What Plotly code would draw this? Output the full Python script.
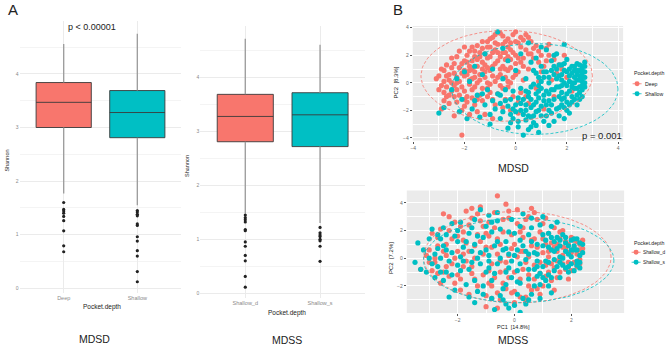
import numpy as np
import plotly.graph_objects as go

W, H = 668, 345
def px(x): return x / W
def py(y): return 1 - y / H

RED = "#F8766D"
CYAN = "#00BFC4"
FONT = "Liberation Sans, Arial, sans-serif"

# ---------------- Box plot data (Shannon) ----------------
mdsd_groups = ["Deep", "Shallow"]
mdsd_q1 = [3.00, 2.81]
mdsd_median = [3.47, 3.28]
mdsd_q3 = [3.84, 3.69]
mdsd_whisk_lo = [1.77, 1.55]
mdsd_whisk_hi = [4.56, 4.75]
mdsd_out_deep = [1.60, 1.47, 1.44, 1.40, 1.34, 1.26, 1.07, 0.79, 0.68]
mdsd_out_shallow = [1.45, 1.42, 1.38, 1.35, 1.20, 1.17, 0.96, 0.88, 0.70, 0.60, 0.31, 0.12]

mdss_groups = ["Shallow_d", "Shallow_s"]
mdss_q1 = [2.81, 2.72]
mdss_median = [3.28, 3.31]
mdss_q3 = [3.69, 3.72]
mdss_whisk_lo = [1.48, 1.30]
mdss_whisk_hi = [4.72, 4.61]
mdss_out_d = [1.45, 1.40, 1.36, 1.32, 1.18, 1.16, 0.95, 0.87, 0.70, 0.60, 0.31, 0.11]
mdss_out_s = [1.22, 1.12, 1.08, 1.05, 1.00, 0.97, 0.87, 0.59]

# ---------------- PCA data (approximate reading) ----------------
mdsd_deep = [(-3.0,0.5),(-2.9,-0.2),(-2.8,0.9),(-2.9,-1.9),(-2.7,-1.0),(-2.6,0.2),(-2.7,1.3),(-2.5,-0.6),(-2.4,0.7),(-2.5,1.8),
(-2.3,-1.4),(-2.3,0.0),(-2.2,1.1),(-2.2,2.3),(-2.1,-0.3),(-2.0,0.5),(-2.0,1.6),(-2.1,-2.0),(-1.9,-1.0),(-1.9,2.0),
(-1.8,0.2),(-1.8,1.2),(-1.7,-0.5),(-1.7,2.6),(-1.6,0.8),(-1.6,-1.6),(-1.5,1.7),(-1.5,0.0),(-1.4,2.2),(-1.4,-0.9),
(-1.3,1.0),(-1.3,3.0),(-1.2,0.4),(-1.2,-2.3),(-1.1,1.8),(-1.1,-0.4),(-1.0,2.6),(-1.0,0.9),(-0.9,3.3),(-0.9,-1.2),
(-0.8,1.4),(-0.8,0.1),(-0.7,2.2),(-0.7,-0.8),(-0.6,3.6),(-0.6,1.0),(-0.5,2.8),(-0.5,-1.8),(-0.4,1.7),(-0.4,0.4),
(-0.3,3.2),(-0.3,-0.3),(-0.2,2.4),(-0.2,1.1),(-0.1,3.5),(-0.1,-1.0),(0.0,2.0),(0.0,0.6),(0.1,2.9),(0.1,-2.2),
(0.2,1.5),(0.2,3.3),(0.3,0.2),(0.4,2.4),(0.5,1.0),(0.5,-1.5),(0.6,3.0),(0.7,1.8),(0.8,-0.4),(0.9,2.3),
(1.0,0.8),(1.1,-1.9),(1.2,1.6),(1.3,2.0),(1.4,0.2),(1.5,-1.0),(1.7,1.3),(1.9,2.0),(2.0,0.4),(2.2,-0.6),
(-2.6,-1.5),(-2.0,-1.7),(-1.5,-2.1),(-0.9,-2.6),(-2.1,-3.8),(-1.8,-0.1),(-2.4,1.4),(-1.3,1.5),(-0.6,0.6),(-1.0,-0.1),
(-1.6,0.4),(-2.0,0.9),(-2.8,0.1),(-3.0,-0.5),(-2.2,-0.9),(-1.2,2.1),(-0.8,2.9),(-0.4,2.2),(0.3,1.2),(-0.2,0.0),
(-1.4,0.6),(-1.9,1.5),(-2.3,0.4),(-1.1,0.0),(-0.7,1.6),(-0.3,0.9),(0.6,2.1),(-1.6,1.9),(-2.5,0.0),(-0.5,3.4),
(0.0,3.7),(-2.7,-0.3),(-2.4,-0.2),(-1.7,1.0),(-1.5,2.7),(-1.0,3.2),(-0.3,2.6),(0.4,3.5),(0.8,2.7),(1.3,2.8),
(1.6,0.7),(0.9,0.1),(0.2,-0.7),(-0.5,-0.4),(-1.3,-1.3),(-1.8,-2.3),(-2.4,-2.4),(-0.2,-2.0),(0.4,-1.0),(1.1,1.2),
(0.0,1.4),(-0.9,0.5),(-1.7,-1.1),(-2.8,-1.3),(-3.1,0.3),(-2.0,2.6),(-1.1,2.6),
(-2.9,1.0),(-2.8,-0.7),(-2.6,0.6),(-2.6,-0.9),(-2.5,1.1),(-2.4,-1.0),(-2.3,1.9),(-2.3,-0.5),(-2.2,0.1),(-2.1,1.4),
(-2.1,0.7),(-2.0,-0.6),(-1.9,0.6),(-1.9,-1.4),(-1.8,2.3),(-1.8,0.9),(-1.7,0.3),(-1.7,1.6),(-1.6,2.3),(-1.6,-0.3),
(-1.5,1.2),(-1.5,-1.2),(-1.4,1.9),(-1.4,0.2),(-1.3,2.5),(-1.3,-0.4),(-1.2,1.3),(-1.2,0.8),(-1.1,3.0),(-1.1,1.1),
(-1.0,1.9),(-1.0,-0.7),(-0.9,2.2),(-0.9,1.2),(-0.8,3.5),(-0.8,2.4),(-0.7,0.4),(-0.7,2.8),(-0.6,1.9),(-0.6,-0.2),
(-0.5,1.2),(-0.5,2.2),(-0.4,3.0),(-0.4,1.0),(-0.3,1.9),(-0.3,0.1),(-0.2,2.9),(-0.2,1.7),(-0.1,2.2),(-0.1,0.4),
(0.0,3.0),(0.1,1.8),(0.1,0.8),(0.2,2.6),(0.3,3.1),(0.3,1.8),(0.5,2.1),(0.5,3.3),(0.7,2.5),(0.9,1.5),
(1.0,2.0),(1.2,2.5),(1.5,1.7),(1.8,1.0),(-2.7,0.5),(-2.0,-1.2),(-1.1,-1.0),(-0.4,-1.2),(0.1,-1.4),(-0.8,-1.6)]

mdsd_shallow = [(2.7,1.5),(2.6,1.2),(2.7,0.8),(2.5,0.5),(2.6,0.1),(2.7,-0.3),(2.5,-0.7),(2.4,1.4),(2.3,0.9),(2.4,0.2),
(2.3,-0.4),(2.2,-1.0),(2.2,1.2),(2.1,0.5),(2.0,-0.2),(2.0,-1.4),(2.0,1.7),(1.9,0.9),(1.8,-0.7),(1.8,0.2),
(1.7,-1.8),(1.7,1.3),(1.6,-0.3),(1.5,0.6),(1.5,-1.2),(1.4,-2.2),(1.4,1.6),(1.3,0.0),(1.3,-0.8),(1.2,-1.6),
(1.2,2.4),(1.1,0.4),(1.1,-2.8),(1.0,-0.4),(1.0,1.2),(0.9,-1.1),(0.9,-2.0),(0.8,0.7),(0.8,-3.1),(0.7,-0.1),
(0.7,-1.6),(0.6,-2.5),(0.6,1.5),(0.5,-0.7),(0.5,-3.4),(0.4,0.3),(0.4,-2.0),(0.3,-1.2),(0.3,-3.8),(0.2,2.1),
(0.2,-0.4),(0.1,-2.8),(0.0,-1.6),(0.0,0.9),(-0.1,-0.6),(-0.2,-2.3),(-0.3,1.6),(-0.3,-3.3),(-0.4,-1.3),(-0.5,0.3),
(-0.6,-2.6),(-0.7,3.7),(-0.7,-0.8),(-0.8,-1.9),(-0.9,1.0),(-1.0,-3.0),(-1.1,-0.5),(-1.2,-1.6),(-1.3,0.6),(-1.4,-2.5),
(-1.5,-0.9),(-1.6,1.2),(-1.7,-1.9),(-1.8,0.1),(-1.9,-2.6),(-2.0,0.8),(-2.1,-1.2),(-2.3,0.3),(-2.5,-0.5),(-2.8,-1.8),
(-3.0,-2.2),(-2.2,-2.1),(-1.2,2.1),(-0.5,2.5),(0.5,2.9),(1.0,2.6),(1.9,2.8),(1.6,2.1),(2.1,-2.2),(1.9,-2.6),
(1.5,-2.8),(2.6,-1.0),(2.4,-1.6),(2.7,0.4),(2.6,-0.5),(2.5,0.9),(2.3,0.0),(2.2,0.7),(2.1,-0.6),(1.9,-1.1),
(1.8,0.6),(1.7,-0.3),(1.6,1.0),(1.4,-0.5),(1.3,-1.3),(1.2,0.8),(1.1,-0.9),(1.0,0.1),(0.9,-0.6),(0.8,-1.4),
(0.7,-2.4),(0.6,-0.3),(0.5,-1.0),(0.4,-1.6),(0.2,-2.0),(0.1,-1.1),(-0.1,-1.9),(-0.2,-2.9),(-0.4,-0.5),(-0.6,-1.5),
(0.9,-3.6),(0.6,-3.2),(1.3,-3.1),(2.0,-2.0),(2.2,-1.4),(2.5,-1.2),(1.8,-1.6),(2.4,0.6),(2.6,1.0),
(2.7,1.2),(2.7,0.0),(2.6,0.7),(2.6,-0.2),(2.5,1.3),(2.5,0.2),(2.5,-0.3),(2.4,-0.9),(2.4,0.9),(2.3,1.2),
(2.3,0.4),(2.3,-1.2),(2.2,0.0),(2.2,-0.3),(2.1,1.0),(2.1,0.1),(2.1,-1.6),(2.0,0.8),(2.0,-0.8),(1.9,0.0),
(1.9,-1.8),(1.8,1.3),(1.8,-0.2),(1.8,-1.2),(1.7,0.5),(1.7,-1.0),(1.6,-1.9),(1.6,0.3),(1.5,-0.5),(1.5,1.2),
(1.4,-1.6),(1.4,0.9),(1.3,0.4),(1.3,-2.0),(1.2,-0.6),(1.2,-2.4),(1.1,-1.3),(1.1,0.8),(1.0,-1.7),(1.0,-2.4),
(0.9,0.4),(0.9,-0.2),(0.8,-2.1),(0.8,-0.8),(0.7,-2.9),(0.7,0.9),(0.6,-1.2),(0.6,-1.8),(0.5,-2.4),(0.4,-0.6),
(0.4,-2.7),(0.3,-2.3),(0.2,-1.5),(0.1,-3.2),(0.0,-2.1),(-0.1,-2.6),(-0.3,-1.7),(-0.5,-2.1),(-0.6,-0.9),(-0.9,-1.3),
(-1.0,-2.3),(-1.3,-0.8),(-1.6,-1.3),(-0.2,-1.2),(2.6,0.4),(2.4,-0.4),(1.9,1.4),(1.5,2.0),(0.8,1.8),(1.7,-2.4)]

mdss_d = [(-3.3,-0.8),(-3.0,0.6),(-2.9,1.8),(-2.8,-0.3),(-2.7,0.9),(-2.6,2.1),(-2.5,-1.0),(-2.4,0.2),(-2.3,3.0),(-2.2,1.4),
(-2.1,-1.8),(-2.0,0.5),(-1.9,2.3),(-1.8,-0.6),(-1.7,1.1),(-1.6,-2.6),(-1.5,2.9),(-1.4,0.0),(-1.3,1.7),(-1.2,3.7),
(-1.1,-1.2),(-1.0,0.8),(-0.9,2.6),(-0.8,-2.0),(-0.7,3.3),(-0.6,4.5),(-0.6,0.3),(-0.5,-3.0),(-0.4,1.9),(-0.3,-0.9),
(-0.2,2.9),(-0.1,-2.5),(0.0,1.0),(0.1,3.5),(0.2,-1.5),(0.3,2.2),(0.4,-0.3),(0.5,3.0),(0.6,-2.3),(0.7,1.4),
(0.8,0.3),(0.9,-1.1),(1.0,2.5),(1.1,-0.5),(1.2,1.8),(1.3,-1.6),(1.4,0.8),(1.5,-0.2),(1.6,1.4),(1.7,0.2),
(1.8,-0.8),(1.9,1.0),(2.0,0.4),(2.1,-0.3),(2.2,1.2),(2.3,0.6),(2.4,1.3),(2.2,-0.6),(2.0,1.5),(1.8,0.7),
(1.6,-1.0),(1.4,2.2),(1.2,0.1),(1.0,-2.0),(0.8,2.8),(0.6,0.9),(0.4,-2.8),(0.2,0.5),(0.0,-1.0),(-0.2,0.2),
(-0.4,-1.8),(-0.6,1.4),(-0.8,-0.4),(-1.0,-2.7),(-1.2,1.2),(-1.4,-1.5),(-1.6,0.5),(-1.8,1.9),(-2.0,-1.2),(-2.2,-0.4),
(-2.4,1.0),(-2.6,-1.8),(-2.8,0.0),(-3.0,-0.3),(-1.0,-3.5),(-0.6,-3.6),(0.0,-3.2),(0.4,-3.1),(-1.3,3.2),(-0.9,1.6),
(-0.3,3.9),(0.6,3.6),(-2.5,3.2),(-1.7,3.4),(-1.9,-2.3),(-0.7,-1.4),(0.3,1.5),(0.9,1.9),(1.5,0.5),(1.9,-1.5),
(1.1,1.0),(0.5,-1.2),(-0.1,0.7),(-1.5,-0.6),(-2.3,2.0),(-1.1,2.3),(1.7,2.0),(2.3,-0.1),(1.3,-0.4),(0.7,-0.5),
(-0.5,-0.2),(0.1,2.5),(-0.9,-0.9),(0.9,-2.6),(1.4,-2.3),(-1.8,0.3),(-2.7,-1.1),(-0.3,-2.2),(0.5,0.1),
(-3.1,0.2),(-2.9,-0.9),(-2.7,1.5),(-2.5,0.5),(-2.3,-1.3),(-2.1,2.6),(-2.1,0.0),(-1.9,-1.5),(-1.8,1.3),(-1.6,2.4),
(-1.5,-1.1),(-1.4,0.9),(-1.3,-2.0),(-1.2,2.7),(-1.1,0.3),(-1.0,1.8),(-0.9,-1.8),(-0.8,0.8),(-0.7,2.2),(-0.6,-2.5),
(-0.5,1.0),(-0.4,2.8),(-0.3,-0.3),(-0.2,-1.4),(-0.1,1.7),(0.0,-2.4),(0.1,0.1),(0.2,1.9),(0.3,-0.8),(0.4,2.8),
(0.5,-2.0),(0.6,1.3),(0.7,-1.5),(0.8,0.8),(0.9,-0.3),(1.0,1.4),(1.1,-1.3),(1.2,0.5),(1.3,1.1),(1.4,-0.7),
(1.5,1.0),(1.6,0.0),(1.7,-0.4),(1.8,1.2),(1.9,0.4),(2.0,-0.9),(2.1,0.8),(2.2,0.3),(2.3,1.0),(2.4,0.7),
(2.1,1.3),(1.9,-0.3),(1.7,0.8),(1.5,-1.4),(1.2,-1.0),(1.0,0.4),(0.8,-2.2),(0.3,0.5),(-0.5,-1.0),(-1.7,-0.2),
(-2.4,-0.6),(-0.2,3.4),(1.1,2.9),(-1.5,3.6),(0.7,3.3),(-0.8,-2.9),(0.2,-2.8),(-2.0,1.6),(1.6,1.9),(2.3,-0.4)]

mdss_s = [(-3.4,1.1),(-3.5,-0.3),(-3.2,0.6),(-3.1,-1.0),(-2.9,2.1),(-2.8,0.3),(-2.7,-0.6),(-2.6,1.4),(-2.5,-1.6),(-2.4,0.6),
(-2.3,-0.2),(-2.2,2.5),(-2.1,-2.3),(-2.0,1.2),(-1.9,-0.9),(-1.8,0.8),(-1.7,-1.9),(-1.6,1.8),(-1.5,-0.3),(-1.4,2.8),
(-1.3,-2.4),(-1.2,0.4),(-1.1,1.5),(-1.0,-1.0),(-0.9,3.1),(-0.8,-2.9),(-0.7,0.9),(-0.6,-0.4),(-0.5,2.1),(-0.4,-2.2),
(-0.3,1.2),(-0.2,-0.7),(-0.1,2.8),(0.0,-3.4),(0.1,0.6),(0.2,-1.8),(0.3,3.2),(0.4,-0.1),(0.5,1.7),(0.6,-2.6),
(0.7,0.4),(0.8,-1.3),(0.9,2.4),(1.0,-0.6),(1.1,1.3),(1.2,-2.0),(1.3,0.6),(1.4,-0.9),(1.5,1.5),(1.6,0.1),
(1.7,-0.5),(1.8,1.1),(1.9,0.3),(2.0,-0.4),(2.1,0.9),(2.2,1.4),(2.3,0.2),(2.4,1.0),(2.3,-0.7),(2.1,0.6),
(2.0,1.3),(1.9,-1.0),(1.8,0.5),(1.7,1.7),(1.6,-1.4),(1.5,0.7),(1.4,-0.1),(1.3,2.3),(1.2,-0.3),(1.1,-1.6),
(1.0,0.9),(0.9,-2.9),(0.8,1.0),(0.7,-0.8),(0.6,2.9),(0.5,-1.5),(0.4,-3.3),(0.3,0.9),(0.2,-0.4),(0.1,-2.6),
(0.0,1.8),(-0.1,-1.4),(-0.2,0.3),(-0.4,-3.0),(-0.5,0.0),(-0.6,2.7),(-0.8,-1.6),(-1.0,0.6),(-1.2,-0.4),(-1.4,1.0),
(-1.6,-2.8),(-1.8,-0.2),(-2.0,2.0),(-2.2,-1.2),(-2.4,1.7),(-2.6,0.0),(-2.8,-1.4),(-3.0,0.0),(-3.3,-0.8),(-0.7,-3.7),
(-0.2,-3.6),(0.2,-3.9),(-1.4,-3.2),(-2.3,-2.8),(-1.2,3.5),(-0.6,3.3),(0.2,2.3),(1.0,3.0),(1.5,2.6),(-1.9,2.6),
(-2.7,1.7),(-1.5,0.5),(-0.9,-0.2),(0.5,0.3),(1.2,1.8),(2.2,-0.2),(1.9,-0.6),(1.6,0.9),(0.8,-0.2),(-0.3,-1.9),
(0.9,-1.9),(1.3,-2.5),(-1.1,-2.0),(-2.5,0.9),
(-3.0,1.4),(-2.9,-0.4),(-2.7,0.7),(-2.5,2.2),(-2.4,-1.0),(-2.2,0.4),(-2.1,1.6),(-1.9,0.1),(-1.7,1.2),(-1.6,-0.8),
(-1.5,2.2),(-1.4,-1.6),(-1.3,0.0),(-1.1,-2.6),(-1.0,2.3),(-0.9,0.2),(-0.8,1.9),(-0.7,-1.1),(-0.6,1.2),(-0.5,-2.7),
(-0.4,0.6),(-0.3,-1.0),(-0.2,1.9),(-0.1,-0.2),(0.0,0.2),(0.1,-1.7),(0.2,1.3),(0.3,-2.9),(0.4,0.5),(0.5,-0.8),
(0.6,1.2),(0.7,-2.0),(0.8,0.3),(0.9,-1.1),(1.0,1.7),(1.1,-0.2),(1.2,0.8),(1.3,-1.4),(1.4,0.5),(1.5,-0.6),
(1.6,1.3),(1.7,0.0),(1.8,-0.7),(1.9,0.9),(2.0,0.1),(2.1,-0.9),(2.2,0.6),(2.3,1.1),(2.4,0.4),(2.2,-0.5),
(2.0,0.6),(1.8,1.5),(1.6,-0.3),(1.4,1.2),(1.2,-1.2),(1.0,-1.4),(0.8,-0.6),(0.5,-3.0),(0.1,-0.9),(-0.3,0.7),
(-0.9,-0.7),(-1.3,1.6),(-2.0,-0.5),(-2.6,-1.0),(-0.3,-3.3),(0.6,2.2),(-0.8,2.6),(1.3,1.5),(2.1,1.4),(2.3,-0.3)]

# ellipse parameters: centre x, centre y, semi-axis x, semi-axis y
mdsd_ell_deep = (-0.35, 0.50, 3.35, 3.30)
mdsd_ell_shallow = (0.75, -0.45, 3.25, 3.30)
mdss_ell_d = (0.10, 0.08, 3.30, 3.30)
mdss_ell_s = (0.15, -0.16, 3.35, 3.05)

fig = go.Figure()

def add_box_panel(xa, ya, groups, q1, med, q3, wlo, whi, outs):
    xs = list(range(len(groups)))
    for i, col in zip(xs, [RED, CYAN]):
        fig.add_trace(go.Scatter(x=[i, i], y=[q3[i], whi[i]], mode="lines",
                                 line=dict(color="#9a9a9a", width=1.3),
                                 xaxis=xa, yaxis=ya, showlegend=False, hoverinfo="skip"))
        fig.add_trace(go.Scatter(x=[i, i], y=[wlo[i], q1[i]], mode="lines",
                                 line=dict(color="#9a9a9a", width=1.3),
                                 xaxis=xa, yaxis=ya, showlegend=False, hoverinfo="skip"))
        fig.add_trace(go.Box(x=[i], q1=[q1[i]], median=[med[i]], q3=[q3[i]],
                             lowerfence=[q1[i]], upperfence=[q3[i]],
                             fillcolor=col, line=dict(color="#3a3a3a", width=0.9),
                             width=0.75, whiskerwidth=0, boxpoints=False,
                             xaxis=xa, yaxis=ya, showlegend=False, hoverinfo="skip"))
        fig.add_trace(go.Scatter(x=[i] * len(outs[i]), y=outs[i], mode="markers",
                                 marker=dict(color="#222222", size=3.2),
                                 xaxis=xa, yaxis=ya, showlegend=False, hoverinfo="skip"))

add_box_panel("x", "y", mdsd_groups, mdsd_q1, mdsd_median, mdsd_q3,
              mdsd_whisk_lo, mdsd_whisk_hi, [mdsd_out_deep, mdsd_out_shallow])
add_box_panel("x2", "y2", mdss_groups, mdss_q1, mdss_median, mdss_q3,
              mdss_whisk_lo, mdss_whisk_hi, [mdss_out_d, mdss_out_s])

def ellipse(p):
    cx, cy, a, b = p
    t = np.linspace(0, 2 * np.pi, 120)
    return cx + a * np.cos(t), cy + b * np.sin(t)

def add_pca(xa, ya, pts_a, pts_b, ell_a, ell_b):
    for pts, col in [(pts_a, RED), (pts_b, CYAN)]:
        xs = [p[0] for p in pts]
        ys = [p[1] for p in pts]
        fig.add_trace(go.Scatter(x=xs, y=ys, mode="markers",
                                 marker=dict(color=col, size=5.2),
                                 xaxis=xa, yaxis=ya, showlegend=False, hoverinfo="skip"))
    for ell, col in [(ell_a, RED), (ell_b, CYAN)]:
        ex, ey = ellipse(ell)
        fig.add_trace(go.Scatter(x=ex, y=ey, mode="lines",
                                 line=dict(color=col, width=0.8, dash="3px,2px"),
                                 xaxis=xa, yaxis=ya, showlegend=False, hoverinfo="skip"))

add_pca("x3", "y3", mdsd_deep, mdsd_shallow, mdsd_ell_deep, mdsd_ell_shallow)
add_pca("x4", "y4", mdss_d, mdss_s, mdss_ell_d, mdss_ell_s)

box_x = dict(showgrid=True, gridcolor="#EBEBEB", gridwidth=0.8, zeroline=False,
             tickfont=dict(size=5.5, color="#8a8a8a", family=FONT), ticks="", showline=False)
box_y = dict(showgrid=True, gridcolor="#EBEBEB", gridwidth=0.8, zeroline=False,
             tick0=0, dtick=1, tickfont=dict(size=5, color="#8a8a8a", family=FONT), ticks="",
             minor=dict(dtick=0.5, tick0=0, showgrid=True, gridcolor="#F4F4F4", gridwidth=0.5),
             showline=False)
pca_ax = dict(showgrid=True, gridcolor="white", gridwidth=0.9, zeroline=False,
              tick0=0, dtick=2, ticks="outside", ticklen=2, tickwidth=0.5, tickcolor="#555",
              tickfont=dict(size=5, color="#6a6a6a", family=FONT),
              minor=dict(dtick=1, tick0=0, showgrid=True, gridcolor="white", gridwidth=0.4),
              showline=False)

fig.update_layout(
    width=W, height=H, margin=dict(l=0, r=0, t=0, b=0),
    paper_bgcolor="white", plot_bgcolor="rgba(0,0,0,0)",
    font=dict(family=FONT, color="#222"),
    xaxis=dict(box_x, domain=[px(17.6), px(180)], range=[-0.6, 1.6],
               tickvals=[0, 1], ticktext=mdsd_groups, anchor="y"),
    yaxis=dict(box_y, domain=[py(293), py(20)], range=[-0.093, 4.99], anchor="x"),
    xaxis2=dict(box_x, domain=[px(199), px(364)], range=[-0.6, 1.6],
                tickvals=[0, 1], ticktext=mdss_groups, anchor="y2"),
    yaxis2=dict(box_y, domain=[py(298), py(25)], range=[-0.093, 4.96], anchor="x2"),
    xaxis3=dict(pca_ax, domain=[px(412), px(623)], range=[-4.02, 4.2], anchor="y3"),
    yaxis3=dict(pca_ax, domain=[py(140), py(25)], range=[-4.2, 4.13], anchor="x3"),
    xaxis4=dict(pca_ax, domain=[px(406), px(624)], range=[-3.79, 3.86], anchor="y4"),
    yaxis4=dict(pca_ax, domain=[py(313), py(190)], range=[-3.96, 4.89], anchor="x4"),
)

shapes = []
for xr, yr in [("x3", "y3"), ("x4", "y4")]:
    shapes.append(dict(type="rect", xref=xr + " domain", yref=yr + " domain",
                       x0=0, x1=1, y0=0, y1=1, fillcolor="#EBEBEB",
                       line=dict(width=0), layer="below"))

annotations = []
def txt(x, y, s, size, color="#222", xanchor="center", angle=0):
    annotations.append(dict(x=px(x), y=py(y), xref="paper", yref="paper", text=s,
                            showarrow=False, xanchor=xanchor, yanchor="middle",
                            textangle=angle, font=dict(size=size, color=color, family=FONT)))

txt(11, 9, "A", 15)
txt(397, 9, "B", 15)
txt(90, 26, "p < 0.00001", 9)
txt(100, 307, "Pocket.depth", 6.5)
txt(5, 160, "Shannon", 5.5, angle=-90)
txt(93, 339, "MDSD", 10.5)
txt(286, 313, "Pocket.depth", 6.5)
txt(185, 165, "Shannon", 5.5, angle=-90)
txt(286, 340, "MDSS", 10.5)
txt(602, 135, "p = 0.001", 9.5)
txt(395, 82, "PC2  [8.3%]", 6, angle=-90)
txt(513, 167, "MDSD", 10.5)
txt(390, 258, "PC2  [7.2%]", 6, angle=-90)
txt(513, 327, "PC1  [14.8%]", 5.5)
txt(513, 340, "MDSS", 10.5)

legend_top = ["Deep", "Shallow"]
legend_bot = ["Shallow_d", "Shallow_s"]
def legend(x_title, y_title, kx, tx, ys, labels, lsize):
    txt(x_title, y_title, "Pocket.depth", 5.2, xanchor="left")
    for yy, lab, col in zip(ys, labels, [RED, CYAN]):
        shapes.append(dict(type="line", xref="paper", yref="paper",
                           x0=px(kx - 4.5), x1=px(kx + 4.5), y0=py(yy), y1=py(yy),
                           line=dict(color=col, width=0.8, dash="dot")))
        shapes.append(dict(type="circle", xref="paper", yref="paper",
                           x0=px(kx - 2.5), x1=px(kx + 2.5), y0=py(yy + 2.5), y1=py(yy - 2.5),
                           fillcolor=col, line=dict(width=0)))
        txt(tx, yy, lab, lsize, xanchor="left")

legend(632, 72, 637, 643, [83, 93], legend_top, 5.2)
legend(632, 243, 636, 641, [252, 262], legend_bot, 4.8)

fig.update_layout(shapes=shapes, annotations=annotations)
fig.write_html("out.html", config={"displayModeBar": False},
               post_script="document.body.style.margin='0';")
